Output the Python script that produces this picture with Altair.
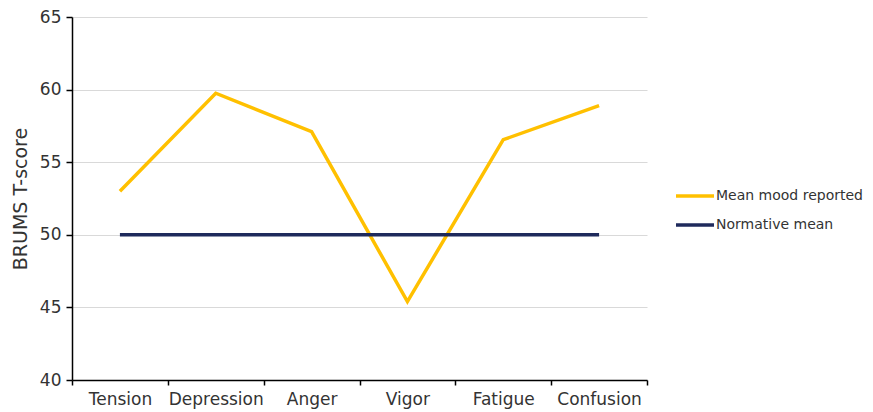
import altair as alt
import pandas as pd

categories = ["Tension", "Depression", "Anger", "Vigor", "Fatigue", "Confusion"]
mean_mood = [53.0, 59.75, 57.1, 45.4, 56.55, 58.9]
normative = [50, 50, 50, 50, 50, 50]
series_names = ["Mean mood reported", "Normative mean"]
colors = ["#FFC000", "#1F2A5C"]

rows = []
for c, v in zip(categories, mean_mood):
    rows.append({"category": c, "value": v, "series": series_names[0]})
for c, v in zip(categories, normative):
    rows.append({"category": c, "value": v, "series": series_names[1]})
df = pd.DataFrame(rows)

FONT = "DejaVu Sans"

chart = alt.Chart(df).mark_line(strokeWidth=3.5).encode(
    x=alt.X("category:N", sort=categories, bandPosition=0.5,
            scale=alt.Scale(type="band", paddingInner=0, paddingOuter=0),
            axis=alt.Axis(title=None, tickBand="extent", labelAngle=0,
                          domainColor="#000000", tickColor="#000000",
                          tickSize=5, labelFontSize=17, labelColor="#333333",
                          labelFont=FONT, labelPadding=6, grid=False)),
    y=alt.Y("value:Q", scale=alt.Scale(domain=[40, 65], nice=False, zero=False),
            axis=alt.Axis(title="BRUMS T-score", values=[40, 45, 50, 55, 60, 65],
                          domainColor="#000000", tickColor="#000000", tickSize=6,
                          labelFontSize=17, labelColor="#333333", labelFont=FONT,
                          labelPadding=5,
                          titleFont=FONT, titleFontSize=19, titleFontWeight="normal",
                          titleColor="#333333", titlePadding=9,
                          gridColor="#d9d9d9", gridWidth=1)),
    color=alt.Color("series:N", sort=series_names,
                    scale=alt.Scale(domain=series_names, range=colors),
                    legend=alt.Legend(title=None, orient="none", legendX=602, legendY=158,
                                      symbolType="stroke", symbolSize=1444,
                                      symbolStrokeWidth=3.5, labelFont=FONT,
                                      labelFontSize=14, labelColor="#333333",
                                      labelOffset=0, rowPadding=1, labelLimit=300)),
).properties(
    width=575, height=363,
    autosize=alt.AutoSizeParams(type="none"),
    padding={"left": 64, "top": 9, "right": 218, "bottom": 32},
).configure_view(stroke=None).configure_axis(domainWidth=1.5, tickWidth=1.5)

chart.save("out.html", embed_options={"renderer": "svg", "actions": False})
